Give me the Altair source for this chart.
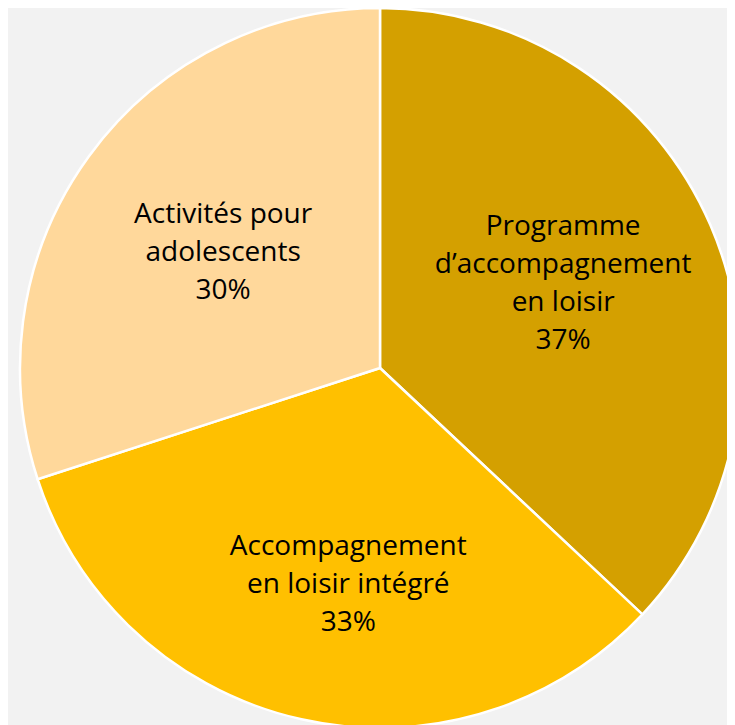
import altair as alt
import pandas as pd

labels = [
    "Programme\nd\u2019accompagnement\nen loisir\n37%",
    "Accompagnement\nen loisir intégré\n33%",
    "Activités pour\nadolescents\n30%",
]
values = [37, 33, 30]
order = [1, 2, 3]
line_counts = [4, 3, 3]
colors = ["#D4A000", "#FFC000", "#FFD89B"]

df = pd.DataFrame({"label": labels, "value": values, "order": order, "lines": line_counts})

theta_scale = alt.Scale(domain=[0, 100], range=[0, 6.283185307])

base = alt.Chart(df).transform_window(
    cum="sum(value)", sort=[alt.SortField("order")]
).transform_calculate(
    start="datum.cum - datum.value", mid="datum.cum - datum.value / 2"
).encode(x=alt.value(372), y=alt.value(360))

arcs = base.mark_arc(outerRadius=360, stroke="white", strokeWidth=2.5).encode(
    theta=alt.Theta("start:Q", scale=theta_scale),
    theta2="cum:Q",
    color=alt.Color("label:N", scale=alt.Scale(domain=labels, range=colors), legend=None),
)

LH = 38
# label nudges (dx, dy) relative to the slice centroid at radius 205
nudges = {1: (-5, -3), 2: (13, 17), 3: (9, 5)}

def text_layer(k):
    n = line_counts[k - 1]
    ndx, ndy = nudges[k]
    return base.transform_filter(f"datum.order == {k}").mark_text(
        radius=205, fontSize=28, font="Open Sans", lineBreak="\n", lineHeight=LH,
        align="center", baseline="middle", color="#000000",
        dx=ndx, dy=ndy - (n - 1) * LH / 2,
    ).encode(theta=alt.Theta("mid:Q", scale=theta_scale), text="label:N")

chart = (arcs + text_layer(1) + text_layer(2) + text_layer(3)).properties(
    width=719, height=717, background="#F2F2F2", padding=0,
    autosize=alt.AutoSizeParams(type="none"),
).configure_view(stroke=None)

chart.save("out.html", embed_options={"renderer": "svg", "actions": False})
